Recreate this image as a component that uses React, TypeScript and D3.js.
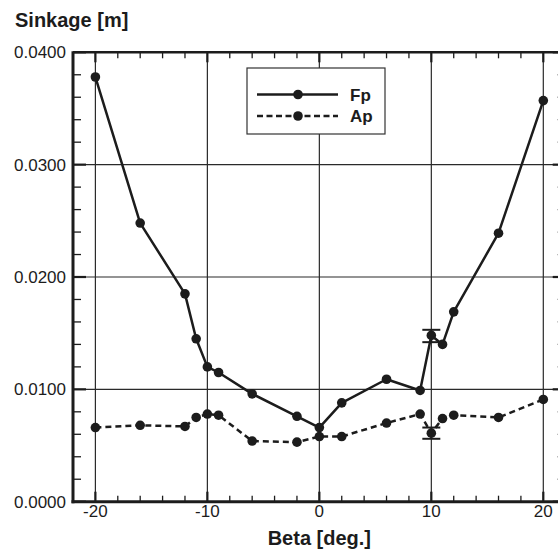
import React from "react";
import * as d3 from "d3";

// Drift angle (deg.) and measured sinkage (m) at the forward (Fp) and aft (Ap) perpendiculars
const beta = [-20, -16, -12, -11, -10, -9, -6, -2, 0, 2, 6, 9, 10, 11, 12, 16, 20];
const fpSinkage = [0.0378, 0.0248, 0.0185, 0.0145, 0.012, 0.0115, 0.0096, 0.0076, 0.0066, 0.0088, 0.0109, 0.0099, 0.0148, 0.014, 0.0169, 0.0239, 0.0357];
const apSinkage = [0.0066, 0.0068, 0.0067, 0.0075, 0.0078, 0.0077, 0.0054, 0.0053, 0.0058, 0.0058, 0.007, 0.0078, 0.0061, 0.0074, 0.0077, 0.0075, 0.0091];

// Repeat-run scatter at beta = 10 deg.
const errBeta = [10];
const fpErrLow = [0.0142];
const fpErrHigh = [0.0153];
const apErrLow = [0.0056];
const apErrHigh = [0.0066];

const yTickLabels = ["0.0000", "0.0100", "0.0200", "0.0300", "0.0400"];
const xTickValues = [-20, -10, 0, 10, 20];
const seriesNames = ["Fp", "Ap"];

const W = 558;
const H = 550;
const left = 73;
const right = 565.7;
const top = 52.3;
const bottom = 501.7;

const FONT = "'Liberation Sans', Arial, Helvetica, sans-serif";

export default function App() {
  const x = d3.scaleLinear().domain([-22, 22]).range([left, right]);
  const y = d3.scaleLinear().domain([0, 0.04]).range([bottom, top]);

  const fpPts = beta.map((b, i) => [b, fpSinkage[i]] as [number, number]);
  const apPts = beta.map((b, i) => [b, apSinkage[i]] as [number, number]);

  const line = d3
    .line<[number, number]>()
    .x((d) => x(d[0]))
    .y((d) => y(d[1]));

  const xMinor = d3.range(-20, 22.01, 2).filter((v) => Math.abs(v % 10) > 1e-9);
  const yMinor = d3.range(1, 20).filter((k) => k % 5 !== 0).map((k) => k * 0.002);
  const yMajor = yTickLabels.map((t) => +t);

  const ink = "#1c1c1c";

  const errBars = (lo: number[], hi: number[], key: string) =>
    errBeta.map((b, i) => (
      <g key={key + i} stroke={ink} strokeWidth={2}>
        <line x1={x(b)} x2={x(b)} y1={y(lo[i])} y2={y(hi[i])} />
        <line x1={x(b) - 9} x2={x(b) + 9} y1={y(lo[i])} y2={y(lo[i])} />
        <line x1={x(b) - 9} x2={x(b) + 9} y1={y(hi[i])} y2={y(hi[i])} />
      </g>
    ));

  // legend box
  const lg = { x0: 247, y0: 68, x1: 385, y1: 134 };
  const legendRows = [
    { name: seriesNames[0], y: 94.5, dash: undefined as string | undefined },
    { name: seriesNames[1], y: 116, dash: "6,3.5" },
  ];

  return (
    <svg
      width={W}
      height={H}
      style={{ position: "absolute", left: 0, top: 0, background: "#fff" }}
      fontFamily={FONT}
    >
      <rect x={0} y={0} width={W} height={H} fill="#fff" />

      {/* grid */}
      <g stroke="#2a2a2a" strokeWidth={1.2}>
        {xTickValues.map((v) => (
          <line key={"gx" + v} x1={x(v)} x2={x(v)} y1={top} y2={bottom} />
        ))}
        {yMajor.slice(1, -1).map((v) => (
          <line key={"gy" + v} x1={left} x2={right} y1={y(v)} y2={y(v)} />
        ))}
      </g>

      {/* series lines */}
      <path d={line(fpPts) || ""} fill="none" stroke={ink} strokeWidth={2.5} strokeLinejoin="round" />
      <path d={line(apPts) || ""} fill="none" stroke={ink} strokeWidth={2.5} strokeDasharray="6,4" />

      {errBars(fpErrLow, fpErrHigh, "fe")}
      {errBars(apErrLow, apErrHigh, "ae")}

      {/* markers */}
      <g fill={ink}>
        {fpPts.map((d, i) => (
          <circle key={"fp" + i} cx={x(d[0])} cy={y(d[1])} r={4.8} />
        ))}
        {apPts.map((d, i) => (
          <circle key={"ap" + i} cx={x(d[0])} cy={y(d[1])} r={4.8} />
        ))}
      </g>

      {/* legend */}
      <rect x={lg.x0} y={lg.y0} width={lg.x1 - lg.x0} height={lg.y1 - lg.y0} fill="#fff" stroke="#333" strokeWidth={1.2} />
      {legendRows.map((r) => (
        <g key={r.name}>
          <line x1={257} x2={338} y1={r.y} y2={r.y} stroke={ink} strokeWidth={2.5} strokeDasharray={r.dash} />
          <circle cx={298} cy={r.y} r={4.8} fill={ink} />
          <text x={350} y={r.y + 6} fontSize={17} fontWeight="bold" fill={ink}>
            {r.name}
          </text>
        </g>
      ))}

      {/* ticks */}
      <g stroke={ink}>
        {xTickValues.map((v) => (
          <g key={"xt" + v} strokeWidth={2.2}>
            <line x1={x(v)} x2={x(v)} y1={bottom} y2={bottom - 10} />
            <line x1={x(v)} x2={x(v)} y1={top} y2={top + 10} />
          </g>
        ))}
        {xMinor.map((v) => (
          <g key={"xm" + v} strokeWidth={1.3}>
            <line x1={x(v)} x2={x(v)} y1={bottom} y2={bottom - 6} />
            <line x1={x(v)} x2={x(v)} y1={top} y2={top + 6} />
          </g>
        ))}
        {yMajor.map((v) => (
          <g key={"yt" + v} strokeWidth={2.2}>
            <line x1={left} x2={left + 13} y1={y(v)} y2={y(v)} />
            <line x1={right} x2={right - 13} y1={y(v)} y2={y(v)} />
          </g>
        ))}
        {yMinor.map((v) => (
          <g key={"ym" + v} strokeWidth={1.3}>
            <line x1={left} x2={left + 8} y1={y(v)} y2={y(v)} />
            <line x1={right} x2={right - 8} y1={y(v)} y2={y(v)} />
          </g>
        ))}
      </g>

      {/* frame */}
      <g stroke={ink} fill="none">
        <line x1={left - 1.5} x2={right} y1={bottom} y2={bottom} strokeWidth={3} />
        <line x1={left} x2={left} y1={top - 1} y2={bottom + 1.5} strokeWidth={3} />
        <line x1={left} x2={right} y1={top} y2={top} strokeWidth={2.5} />
        <line x1={right} x2={right} y1={top} y2={bottom} strokeWidth={2.5} />
      </g>

      {/* tick labels */}
      <g fontSize={17} fill={ink}>
        {yTickLabels.map((t) => (
          <text key={"yl" + t} x={66} y={y(+t) + 6} textAnchor="end">
            {t}
          </text>
        ))}
        {xTickValues.map((v) => (
          <text key={"xl" + v} x={x(v)} y={517} textAnchor="middle">
            {v}
          </text>
        ))}
      </g>

      {/* titles */}
      <text x={15} y={27} fontSize={20} fontWeight="bold" fill={ink}>
        Sinkage [m]
      </text>
      <text x={x(0)} y={545} fontSize={20} fontWeight="bold" fill={ink} textAnchor="middle">
        Beta [deg.]
      </text>
    </svg>
  );
}
